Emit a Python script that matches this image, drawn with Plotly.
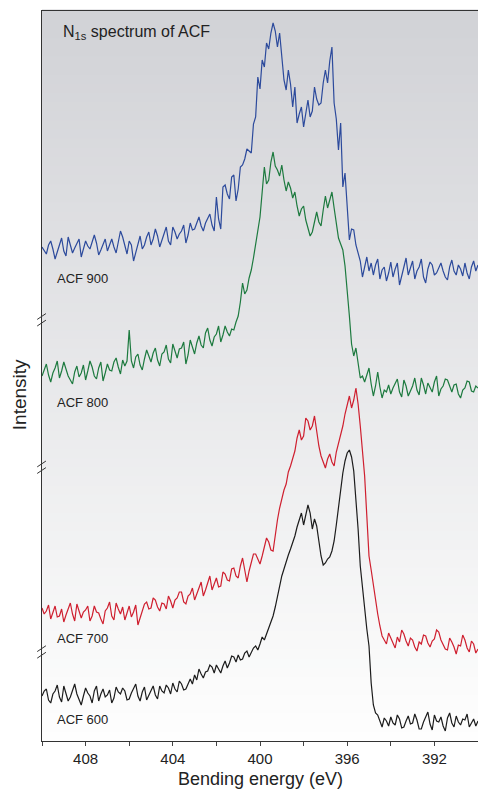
import plotly.graph_objects as go

# Binding energy grid (eV), 0.1 eV step from 410 down to 390
energy = [round(410 - 0.1 * i, 1) for i in range(201)]

# Intensities (arbitrary units)
acf600 = [45, 50, 52, 41, 38, 47, 50, 56, 44, 39,
          55, 48, 40, 44, 50, 57, 47, 42, 36, 45,
          53, 48, 45, 38, 50, 55, 40, 47, 52, 44,
          46, 51, 38, 43, 54, 49, 47, 53, 50, 41,
          42, 48, 52, 57, 45, 40, 49, 54, 41, 46,
          50, 55, 46, 42, 55, 50, 48, 56, 53, 47,
          58, 52, 49, 60, 57, 51, 52, 58, 62, 57,
          66, 61, 72, 67, 63, 69, 70, 76, 74, 68,
          76, 72, 68, 75, 80, 73, 78, 85, 84, 79,
          86, 81, 82, 88, 90, 84, 88, 93, 95, 91,
          97, 104, 101, 107, 112, 118, 125, 134, 145, 154,
          165, 172, 180, 186, 192, 198, 205, 214, 222, 228,
          216, 225, 236, 228, 212, 222, 215, 200, 185, 176,
          178, 182, 184, 190, 200, 216, 235, 252, 268, 280,
          288, 291, 284, 270, 245, 212, 175, 152, 130, 112,
          95, 58, 36, 28, 26, 19, 14, 23, 20, 15,
          24, 18, 16, 26, 22, 13, 14, 20, 25, 17,
          18, 27, 21, 12, 12, 19, 24, 29, 17, 11,
          26, 20, 19, 24, 15, 10, 23, 28, 18, 14,
          25, 19, 16, 22, 21, 27, 14, 18, 22, 15,
          20]

acf700 = [58, 52, 55, 61, 47, 53, 60, 49, 50, 57,
          44, 51, 58, 63, 52, 45, 62, 55, 48, 54,
          56, 60, 45, 50, 60, 54, 53, 47, 42, 55,
          58, 64, 50, 46, 63, 57, 52, 59, 46, 53,
          60, 49, 54, 61, 41, 48, 56, 62, 64, 57,
          58, 68, 66, 59, 55, 63, 62, 57, 70, 65,
          58, 66, 68, 74, 74, 64, 62, 70, 72, 78,
          66, 73, 78, 84, 70, 76, 84, 90, 76, 82,
          88, 79, 80, 94, 92, 86, 85, 97, 98, 90,
          88, 100, 108, 96, 84, 95, 104, 112, 112, 106,
          102, 110, 118, 128, 124, 116, 115, 132, 146, 158,
          168, 176, 182, 194, 200, 208, 215, 228, 236, 226,
          230, 248, 245, 236, 240, 250, 232, 220, 210, 204,
          198, 207, 212, 204, 200, 214, 222, 230, 240, 252,
          262, 270, 258, 266, 278, 262, 240, 214, 190, 150,
          110, 96, 80, 66, 52, 40, 30, 26, 22, 33,
          28, 22, 18, 29, 24, 36, 32, 25, 20, 28,
          26, 19, 15, 24, 22, 31, 30, 23, 19, 25,
          27, 36, 34, 26, 22, 17, 16, 28, 24, 19,
          12, 21, 20, 31, 26, 18, 14, 25, 22, 13,
          17]

acf800 = [30, 36, 42, 31, 24, 33, 38, 45, 28, 35,
          44, 37, 30, 26, 22, 34, 40, 29, 33, 41,
          26, 35, 45, 39, 30, 27, 38, 44, 25, 33,
          42, 36, 35, 44, 48, 39, 32, 46, 40, 45,
          76, 45, 38, 49, 52, 41, 36, 47, 56, 50,
          44, 53, 58, 46, 40, 52, 54, 61, 47, 43,
          62, 55, 48, 57, 58, 64, 42, 51, 66, 59,
          52, 63, 70, 61, 58, 73, 78, 66, 60, 69,
          72, 80, 64, 71, 80, 74, 70, 77, 76, 84,
          90, 104, 123, 112, 116, 128, 136, 148, 162, 176,
          189, 214, 239, 222, 226, 244, 254, 240, 236, 230,
          241, 226, 215, 224, 218, 208, 214, 200, 190, 197,
          200, 186, 178, 170, 174, 186, 194, 184, 180, 196,
          210, 198, 205, 214, 198, 184, 168, 162, 156, 140,
          118, 90, 62, 50, 58, 40, 28, 30, 24, 31,
          38, 22, 10, 20, 34, 19, 8, 16, 14, 21,
          12, 18, 22, 27, 14, 9, 26, 20, 10, 15,
          20, 28, 16, 11, 28, 21, 12, 23, 18, 14,
          24, 30, 10, 17, 20, 27, 26, 19, 14, 21,
          22, 12, 8, 16, 18, 25, 24, 15, 14, 20,
          18]

acf900 = [42, 38, 35, 44, 48, 40, 30, 37, 44, 51,
          38, 33, 52, 45, 36, 41, 45, 50, 32, 39,
          48, 43, 40, 47, 54, 46, 34, 39, 44, 50,
          38, 45, 50, 42, 36, 47, 58, 52, 42, 35,
          48, 44, 28, 36, 46, 53, 40, 44, 52, 57,
          44, 50, 60, 53, 42, 48, 56, 62, 48, 44,
          62, 57, 50, 55, 58, 64, 46, 54, 66, 59,
          60, 67, 72, 63, 58, 66, 70, 75, 64, 58,
          92, 70, 60, 102, 104, 95, 90, 112, 114, 88,
          100, 122, 124, 130, 140, 138, 136, 165, 172, 212,
          200, 229, 222, 246, 240, 256, 266, 258, 242, 256,
          232, 209, 199, 219, 205, 182, 202, 166, 175, 182,
          162, 176, 189, 172, 178, 202, 190, 184, 186, 206,
          219, 206, 228, 242, 186, 170, 139, 166, 102, 116,
          82, 49, 60, 59, 44, 36, 28, 12, 22, 32,
          18, 26, 14, 24, 30, 10, 19, 22, 8, 16,
          27, 12, 20, 26, 4, 13, 24, 31, 14, 20,
          28, 10, 18, 22, 30, 12, 6, 20, 27, 24,
          14, 16, 22, 26, 18, 12, 9, 22, 29, 18,
          14, 24, 20, 13, 26, 16, 10, 22, 28, 18,
          24]

series_names = ["ACF 600", "ACF 700", "ACF 800", "ACF 900"]
series_data = [acf600, acf700, acf800, acf900]
series_offsets = [0, 75, 335, 452]
series_colors = ["#1c1c1c", "#cf1f2f", "#1d7a3f", "#2c4a9c"]

fig = go.Figure()
for name, vals, off, col in zip(series_names, series_data, series_offsets, series_colors):
    fig.add_trace(go.Scatter(x=energy, y=[v + off for v in vals], mode="lines", name=name,
                             line=dict(color=col, width=1.2), showlegend=False))

FONT = "Liberation Sans, Arial, Helvetica, sans-serif"

# vertical gradient background
shapes = []
n = 80
top = (209, 210, 214)
bot = (254, 254, 254)
for k in range(n):
    t = k / (n - 1)
    c = tuple(round(bot[j] + (top[j] - bot[j]) * t) for j in range(3))
    shapes.append(dict(type="rect", xref="paper", yref="paper", x0=0, x1=1,
                       y0=k / n, y1=(k + 1) / n + 0.002, line=dict(width=0),
                       fillcolor="rgb(%d,%d,%d)" % c, layer="below"))

# axis break marks
for yb in [0.577, 0.375, 0.122]:
    for d in (-0.0045, 0.0045):
        shapes.append(dict(type="line", xref="paper", yref="paper",
                           x0=-0.011, x1=0.009, y0=yb + d - 0.004, y1=yb + d + 0.004,
                           line=dict(color="#333333", width=1)))

labels = [("ACF 900", 0.634), ("ACF 800", 0.464), ("ACF 700", 0.141), ("ACF 600", 0.029)]
annotations = [dict(text=t, x=0.03, y=y, xref="paper", yref="paper", showarrow=False,
                    xanchor="left", yanchor="middle", font=dict(family=FONT, size=13, color="#222"))
               for t, y in labels]
annotations.append(dict(text="N<sub>1s</sub> spectrum of ACF", x=0.044, y=0.970, xref="paper",
                        yref="paper", showarrow=False, xanchor="left", yanchor="middle",
                        font=dict(family=FONT, size=16, color="#222")))
annotations.append(dict(text="Intensity", x=-0.05, y=0.474, xref="paper", yref="paper",
                        showarrow=False, textangle=-90, xanchor="center", yanchor="middle",
                        font=dict(family=FONT, size=19, color="#222")))
annotations.append(dict(text="Bending energy (eV)", x=0.5, y=-0.052, xref="paper", yref="paper",
                        showarrow=False, xanchor="center", yanchor="middle",
                        font=dict(family=FONT, size=18, color="#222")))

fig.update_layout(
    width=478, height=792,
    margin=dict(l=42, r=0, t=11, b=51),
    paper_bgcolor="white", plot_bgcolor="white",
    shapes=shapes, annotations=annotations,
    xaxis=dict(range=[410, 390], tick0=408, dtick=4,
               ticks="outside", ticklen=4, tickcolor="#444", showline=True,
               minor=dict(dtick=2, tick0=410, ticks="outside", ticklen=4, tickcolor="#444", showgrid=False),
               linecolor="#333", linewidth=1, mirror=True, showgrid=False, zeroline=False,
               tickfont=dict(family=FONT, size=15, color="#222")),
    yaxis=dict(range=[0, 730], showticklabels=False, ticks="", showline=True,
               linecolor="#333", linewidth=1, showgrid=False, zeroline=False),
)

fig.write_html("out.html")
